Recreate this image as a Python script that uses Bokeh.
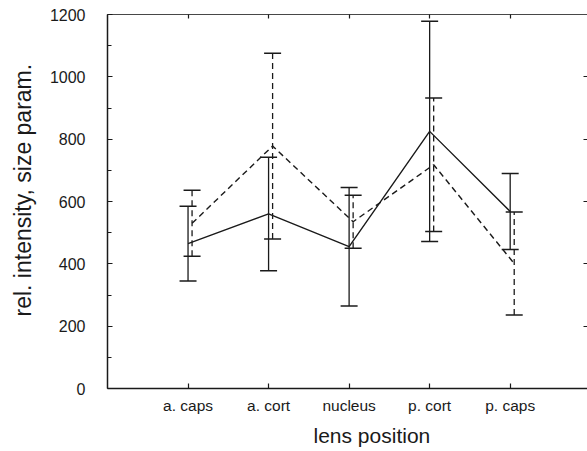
from bokeh.plotting import figure
from bokeh.models import (ColumnDataSource, Whisker, TeeHead, Range1d, FixedTicker,
                          LinearAxis, Title)
from bokeh.embed import file_html
from bokeh.resources import INLINE

categories = ["a. caps", "a. cort", "nucleus", "p. cort", "p. caps"]
solid_mean = [465, 560, 455, 825, 568]
solid_err = [120, 182, 190, 353, 122]
dashed_mean = [530, 778, 535, 718, 401]
dashed_err = [106, 298, 85, 214, 165]
y_ticks = [0, 200, 400, 600, 800, 1000, 1200]

FONT = "Liberation Sans"
INK = "#1a1a1a"
DODGE = 0.05

xs = [i + 1 for i in range(len(categories))]
xs_d = [x + DODGE for x in xs]

src_s = ColumnDataSource(dict(
    x=xs, y=solid_mean,
    upper=[m + e for m, e in zip(solid_mean, solid_err)],
    lower=[m - e for m, e in zip(solid_mean, solid_err)]))
src_d = ColumnDataSource(dict(
    x=xs_d, y=dashed_mean,
    upper=[m + e for m, e in zip(dashed_mean, dashed_err)],
    lower=[m - e for m, e in zip(dashed_mean, dashed_err)]))

p = figure(width=587, height=451, output_backend="svg", toolbar_location=None,
           x_range=Range1d(0, 5.96), y_range=Range1d(0, 1200),
           min_border_left=107, min_border_right=0, min_border_top=14,
           min_border_bottom=63, x_axis_location=None, y_axis_location=None)
p.grid.visible = False
p.outline_line_color = None
p.background_fill_color = "white"
p.border_fill_color = "white"

# bottom axis
xb = LinearAxis(ticker=FixedTicker(ticks=xs),
                major_label_overrides={x: c for x, c in zip(xs, categories)})
# left axis
yl = LinearAxis(ticker=FixedTicker(ticks=y_ticks,
                                   minor_ticks=[v for v in range(0, 1201, 100)]))
# top and right (no labels)
xt = LinearAxis(ticker=FixedTicker(ticks=xs),
                major_label_overrides={x: "" for x in xs})
yr = LinearAxis(ticker=FixedTicker(ticks=y_ticks[1:-1]),
                major_label_overrides={v: "" for v in y_ticks[1:-1]})

for ax in (xb, yl, xt, yr):
    ax.axis_line_color = INK
    ax.axis_line_width = 1.5
    ax.major_tick_line_color = INK
    ax.major_tick_line_width = 1.2
    ax.major_tick_in = 5
    ax.major_tick_out = 0
    ax.minor_tick_in = 0
    ax.minor_tick_out = 0
    ax.major_label_text_font = FONT
    ax.major_label_text_color = INK

xb.major_label_text_font_size = "15.5px"
xb.major_label_standoff = 8
yl.major_label_text_font_size = "16px"
yl.major_label_standoff = 22
yl.minor_tick_in = 4
yl.minor_tick_line_color = INK
yl.minor_tick_line_width = 1.0
for ax in (xt, yr):
    ax.major_label_standoff = 0
    ax.major_tick_in = 4
xt.axis_line_width = 1.0
xt.axis_line_alpha = 0.8
yr.axis_line_color = None

p.add_layout(xb, "below")
p.add_layout(yl, "left")
p.add_layout(xt, "above")
p.add_layout(yr, "right")

# axis titles (as side titles so they can sit off-centre like the reference)
p.add_layout(Title(text="lens position", text_font=FONT, text_font_size="21px",
                   text_font_style="normal", text_color=INK, align="left",
                   offset=206, standoff=10), "below")
p.add_layout(Title(text="rel. intensity, size param.", text_font=FONT,
                   text_font_size="23px", text_font_style="normal",
                   text_color=INK, align="left", vertical_align="top",
                   offset=72, standoff=17), "left")

# error bars
ws = Whisker(source=src_s, base="x", upper="upper", lower="lower",
             line_color=INK, line_width=1.3,
             upper_head=TeeHead(size=17, line_color=INK, line_width=1.5),
             lower_head=TeeHead(size=17, line_color=INK, line_width=1.5))
wd = Whisker(source=src_d, base="x", upper="upper", lower="lower",
             line_color=INK, line_width=1.3, line_dash="6 4",
             upper_head=TeeHead(size=17, line_color=INK, line_width=1.5),
             lower_head=TeeHead(size=17, line_color=INK, line_width=1.5))
p.add_layout(ws)
p.add_layout(wd)

p.line("x", "y", source=src_s, line_color=INK, line_width=1.4)
p.line("x", "y", source=src_d, line_color=INK, line_width=1.4, line_dash="6 4")

open("out.html", "w").write(file_html(p, INLINE))
